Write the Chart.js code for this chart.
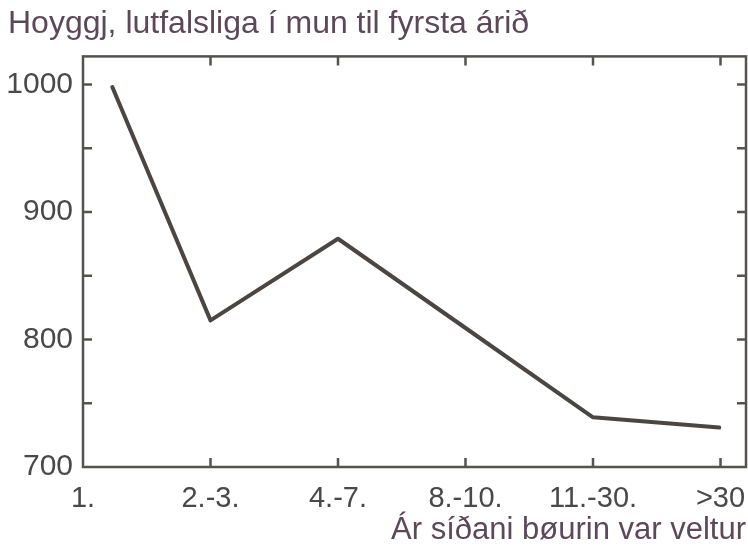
<!DOCTYPE html>
<html>
<head>
<meta charset="utf-8">
<script src="https://cdn.jsdelivr.net/npm/chart.js@4.4.1/dist/chart.umd.min.js"></script>
<style>
  body { margin: 0; background: #fff; }
  #wrap { width: 748px; height: 546px; }
</style>
</head>
<body>
<div id="wrap"><canvas id="hoyggj"></canvas></div>
<script>
// Flokkar á x-ásinum
const categories = ["1.", "2.-3.", "4.-7.", "8.-10.", "11.-30.", ">30"];
// Punktar: x = staða á ásinum, y = hoyggj
const pointX = [0.23, 1, 2, 3, 4, 4.99];
const pointY = [998, 815, 879, 809, 739, 731];
const yLabels = [700, 800, 900, 1000];

const lineColor = "#4b4642";
const frameColor = "#555250";
const textColor = "#5b4859";
const tickColor = "#4a4848";

// Smáir strikir inn í myndina og ramma rundan
const innerTicks = {
  id: "innerTicks",
  afterDraw(chart) {
    const ctx = chart.ctx;
    const a = chart.chartArea;
    const xs = chart.scales.x;
    const ys = chart.scales.y;
    const len = 9;
    ctx.save();
    ctx.strokeStyle = frameColor;
    ctx.lineWidth = 2.5;
    ctx.strokeRect(a.left, a.top, a.right - a.left, a.bottom - a.top);
    ctx.beginPath();
    xs.ticks.forEach((t) => {
      if (t.value <= 0) return;
      const px = xs.getPixelForValue(t.value);
      ctx.moveTo(px, a.bottom);
      ctx.lineTo(px, a.bottom - len);
      ctx.moveTo(px, a.top);
      ctx.lineTo(px, a.top + len);
    });
    ys.ticks.forEach((t) => {
      if (t.value <= 700) return;
      const py = ys.getPixelForValue(t.value);
      ctx.moveTo(a.left, py);
      ctx.lineTo(a.left + len, py);
      ctx.moveTo(a.right, py);
      ctx.lineTo(a.right - len, py);
    });
    ctx.stroke();
    ctx.restore();
  }
};

new Chart(document.getElementById("hoyggj"), {
  type: "line",
  data: {
    datasets: [{
      data: pointX.map((x, i) => ({ x: x, y: pointY[i] })),
      borderColor: lineColor,
      borderWidth: 4,
      pointRadius: 0,
      tension: 0,
      borderCapStyle: "round",
      borderJoinStyle: "round"
    }]
  },
  options: {
    responsive: true,
    maintainAspectRatio: false,
    animation: false,
    layout: { padding: { left: 8, right: 2, top: 0, bottom: 0 } },
    plugins: {
      legend: { display: false },
      tooltip: { enabled: false },
      title: {
        display: true,
        text: "Hoyggj, lutfalsliga í mun til fyrsta árið",
        align: "start",
        color: textColor,
        font: { family: "Liberation Sans, Arial", size: 32, weight: "normal" },
        padding: { top: 5, bottom: 13 }
      }
    },
    scales: {
      x: {
        type: "linear",
        min: 0,
        max: 5.2,
        grid: { display: false, drawTicks: false },
        border: { display: false },
        ticks: {
          stepSize: 1,
          includeBounds: false,
          autoSkip: false,
          maxRotation: 0,
          padding: 15,
          color: tickColor,
          font: { family: "Liberation Sans, Arial", size: 29 },
          callback: (v) => categories[v] !== undefined ? categories[v] : ""
        },
        title: {
          display: true,
          text: "Ár síðani bøurin var veltur",
          align: "end",
          color: textColor,
          font: { family: "Liberation Sans, Arial", size: 31, lineHeight: 1 },
          padding: { top: 0, bottom: 0 }
        },
        afterFit(scale) {
          scale.height = 79;
          scale.paddingLeft = 0;
          scale.paddingRight = 0;
        }
      },
      y: {
        min: 700,
        max: 1022,
        grid: { display: false, drawTicks: false },
        border: { display: false },
        ticks: {
          stepSize: 50,
          includeBounds: false,
          padding: 10,
          color: tickColor,
          font: { family: "Liberation Sans, Arial", size: 30 },
          callback: (v) => yLabels.includes(v) ? String(v) : ""
        },
        afterFit(scale) { scale.width = 75; }
      }
    }
  },
  plugins: [innerTicks]
});
</script>
</body>
</html>
